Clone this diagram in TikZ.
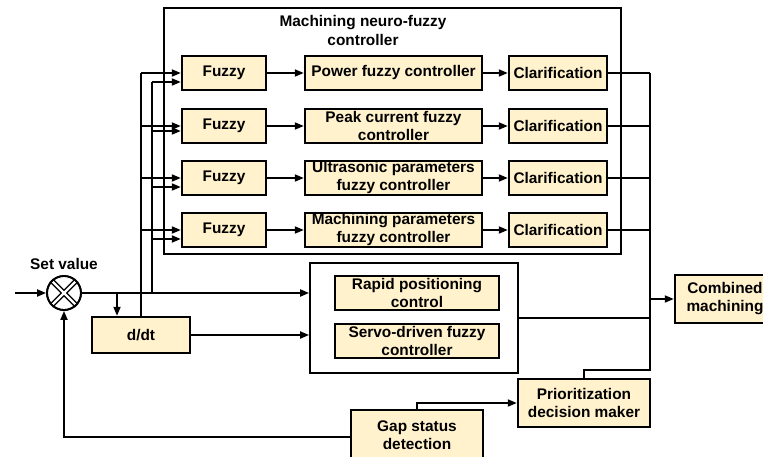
\documentclass[tikz,border=0pt]{standalone}
\usepackage{fontspec}
\setmainfont{Liberation Sans}
\usetikzlibrary{arrows.meta,calc,positioning}
\definecolor{boxfill}{RGB}{255,242,204}

\begin{document}
\begin{tikzpicture}[x=1pt,y=-1pt,
  every node/.style={font=\bfseries\fontsize{15.4}{18}\selectfont,align=center,inner sep=0pt},
  blk/.style={draw,line width=2.4pt,fill=boxfill},
  frame/.style={draw,line width=1.8pt},
  wire/.style={line width=1.8pt},
  arr/.style={line width=1.8pt,-{Triangle[length=9pt,width=7pt]}}]
\useasboundingbox (0,0) rectangle (763,457);
% neuro-fuzzy frame
\draw (392.5,131) node (nf) [frame,minimum width=457pt,minimum height=246pt] {};
\draw (363,30) node (nftitle) [font=\bfseries\fontsize{15.4}{19}\selectfont] {Machining neuro-fuzzy\\controller};
\draw (224,73) node (f1) [blk,minimum width=84pt,minimum height=34pt] {Fuzzy};
\draw (224,126) node (f2) [blk,minimum width=84pt,minimum height=34pt] {Fuzzy};
\draw (224,178) node (f3) [blk,minimum width=84pt,minimum height=34pt] {Fuzzy};
\draw (224,230) node (f4) [blk,minimum width=84pt,minimum height=34pt] {Fuzzy};
\draw (393.5,73) node (m1) [blk,minimum width=177pt,minimum height=34pt] {Power fuzzy controller};
\draw (393.5,126) node (m2) [blk,minimum width=177pt,minimum height=34pt] {Peak current fuzzy\\controller};
\draw (393.5,178) node (m3) [blk,minimum width=177pt,minimum height=34pt] {Ultrasonic parameters\\fuzzy controller};
\draw (393.5,230) node (m4) [blk,minimum width=177pt,minimum height=34pt] {Machining parameters\\fuzzy controller};
\draw (558,73) node (c1) [blk,minimum width=98pt,minimum height=34pt] {Clarification};
\draw (558,126) node (c2) [blk,minimum width=98pt,minimum height=34pt] {Clarification};
\draw (558,178) node (c3) [blk,minimum width=98pt,minimum height=34pt] {Clarification};
\draw (558,230) node (c4) [blk,minimum width=98pt,minimum height=34pt] {Clarification};
\draw[arr] (f1)--(m1);
\draw[arr] (f2)--(m2);
\draw[arr] (f3)--(m3);
\draw[arr] (f4)--(m4);
\draw[arr] (m1)--(c1);
\draw[arr] (m2)--(c2);
\draw[arr] (m3)--(c3);
\draw[arr] (m4)--(c4);
% summing point and derivative
\draw (64,293) node (sum) [draw,circle,line width=1.8pt,minimum size=34pt] {};
\draw[line width=5pt] (sum.45)--(sum.225) (sum.135)--(sum.315);
\draw[white,line width=2.2pt,shorten <=1pt,shorten >=1pt] (sum.45)--(sum.225) (sum.135)--(sum.315);
\draw (sum.center) node [draw,circle,line width=1.8pt,minimum size=34pt] {};
\draw (64,264) node (setv) {Set value};
\coordinate (in) at (15,293);
\draw[arr] (in)--(sum.west);
\draw (141,335) node (ddt) [blk,minimum width=98pt,minimum height=36pt] {d/dt};
\coordinate (br) at (117,293);
\coordinate (eb) at (152,293);
% rapid positioning / servo
\draw (414,318) node (rs) [frame,minimum width=208pt,minimum height=110pt] {};
\draw (417,293) node (rp) [blk,minimum width=164pt,minimum height=34pt] {Rapid positioning\\control};
\draw (417,341) node (sv) [blk,minimum width=164pt,minimum height=34pt] {Servo-driven fuzzy\\controller};
\draw[arr] (sum.east)--(sum.east -| rs.west);
\draw[arr] (br)--(br |- ddt.north);
\draw[arr] (ddt.east)--(ddt.east -| rs.west);
% inputs of the fuzzy blocks
\draw[wire] (ddt.north)--(ddt.north |- f1.west);
\draw[wire] (eb)--([yshift=-9pt]eb |- f1.west);
\draw[arr] (ddt.north |- f1.west)--(f1.west);
\draw[arr] (ddt.north |- f2.west)--(f2.west);
\draw[arr] (ddt.north |- f3.west)--(f3.west);
\draw[arr] (ddt.north |- f4.west)--(f4.west);
\draw[arr] ([yshift=-9pt]eb |- f1.west)--([yshift=-9pt]f1.west);
\draw[arr] ([yshift=-5pt]eb |- f2.west)--([yshift=-5pt]f2.west);
\draw[arr] ([yshift=-9pt]eb |- f3.west)--([yshift=-9pt]f3.west);
\draw[arr] ([yshift=-9pt]eb |- f4.west)--([yshift=-9pt]f4.west);
% output side
\draw (725,299) node (cm) [blk,minimum width=100pt,minimum height=48pt] {Combined\\machining};
\draw (584,403) node (pd) [blk,minimum width=132pt,minimum height=48pt] {Prioritization\\decision maker};
\draw (417,435) node (gs) [blk,minimum width=132pt,minimum height=50pt] {Gap status\\detection};
\coordinate (bt) at (650,73);
\coordinate (bb) at (650,370);
\draw[wire] (c1.east)--(c1.east -| bt);
\draw[wire] (c2.east)--(c2.east -| bt);
\draw[wire] (c3.east)--(c3.east -| bt);
\draw[wire] (c4.east)--(c4.east -| bt);
\draw[wire] (rs.east)--(rs.east -| bt);
\draw[wire] (bt)--(bb)-|(pd.north);
\draw[arr] (cm.west -| bt)--(cm.west);
\draw[arr] (gs.north)|-(pd.west);
\draw[arr] ([yshift=-2pt]gs.west)-|(sum.south);
\end{tikzpicture}
\end{document}
